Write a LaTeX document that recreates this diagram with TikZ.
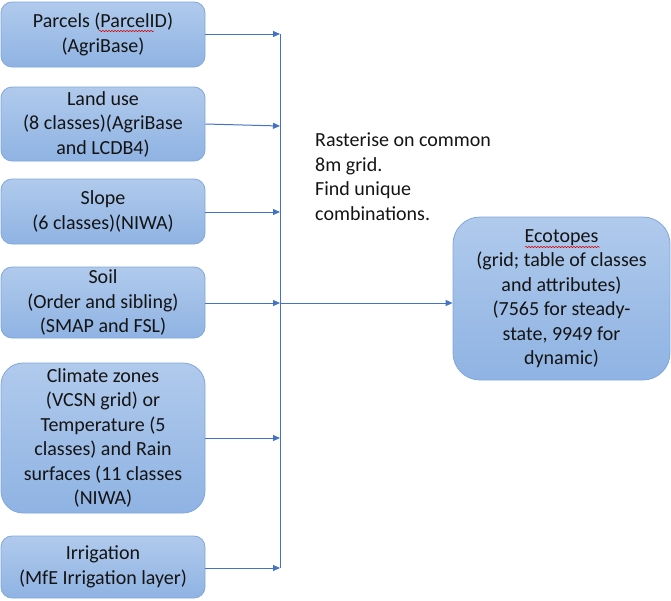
\documentclass[tikz,border=0pt]{standalone}
\usepackage{fontspec}
\setmainfont{Carlito}
\usetikzlibrary{arrows.meta,decorations.pathmorphing}
\definecolor{boxtop}{RGB}{176,202,236}
\definecolor{boxbot}{RGB}{143,179,227}
\definecolor{boxline}{RGB}{130,167,220}
\definecolor{arrowblue}{RGB}{68,114,196}
\definecolor{txt}{RGB}{20,20,20}
\begin{document}
\begin{tikzpicture}[x=1pt,y=-1pt,
  srcbox/.style={rectangle, rounded corners=11pt, top color=boxtop, bottom color=boxbot,
    draw=boxline, line width=0.8pt, minimum width=204pt, align=center, inner sep=2pt,
    text=txt, font=\fontsize{20}{24.5}\selectfont},
  conn/.style={draw=arrowblue, line width=1pt},
  arr/.style={conn, -{Triangle[length=7pt,width=6pt]}},
  squig/.style={draw=red!85!black, line width=0.5pt, decorate,
    decoration={snake, segment length=3pt, amplitude=0.7pt}}]
\useasboundingbox (0,0) rectangle (671,600);

\node[srcbox, minimum height=65pt] (parcels) at (103,34.5) {Parcels (ParcelID)\\(AgriBase)};
\node[srcbox, minimum height=74pt] (landuse) at (103,124) {Land use\\(8 classes)(AgriBase\\and LCDB4)};
\node[srcbox, minimum height=65pt] (slope) at (103,211.5) {Slope\\(6 classes)(NIWA)};
\node[srcbox, minimum height=71pt] (soil) at (103,302.5) {Soil\\(Order and sibling)\\(SMAP and FSL)};
\node[srcbox, minimum height=150pt, rounded corners=22pt] (climate) at (103,438) {Climate zones\\(VCSN grid) or\\Temperature (5\\classes) and Rain\\surfaces (11 classes\\(NIWA)};
\node[srcbox, minimum height=62pt] (irrig) at (103,567) {Irrigation\\(MfE Irrigation layer)};
\node[srcbox, minimum width=217pt, minimum height=163pt, rounded corners=27pt] (eco) at (561.5,298.5) {Ecotopes\\(grid; table of classes\\and attributes)\\(7565 for steady-\\state, 9949 for\\dynamic)};

\node[anchor=north west, inner sep=0pt, align=left, text=txt,
  font=\fontsize{20}{24.5}\selectfont] (note) at (315,133)
  {Rasterise on common\\8m grid.\\Find unique\\combinations.};

\coordinate (b1) at (280,34);
\coordinate (b2) at (280,126);
\coordinate (b3) at (280,212);
\coordinate (b4) at (280,303);
\coordinate (b5) at (280,438);
\coordinate (b6) at (280,568);

\draw[conn] (b1) -- (b6);
\draw[arr] (parcels.east |- b1) -- (b1);
\draw[arr] (landuse.east) -- (b2);
\draw[arr] (slope.east |- b3) -- (b3);
\draw[arr] (soil.east |- b4) -- (b4);
\draw[arr] (climate.east |- b5) -- (b5);
\draw[arr] (irrig.east |- b6) -- (b6);
\draw[arr] (b4) -- (eco.west |- b4);

\coordinate (s1a) at (99,31);
\coordinate (s1b) at (154,31);
\coordinate (s2a) at (525,247);
\coordinate (s2b) at (600,247);
\draw[squig] (s1a) -- (s1b);
\draw[squig] (s2a) -- (s2b);
\end{tikzpicture}
\end{document}
